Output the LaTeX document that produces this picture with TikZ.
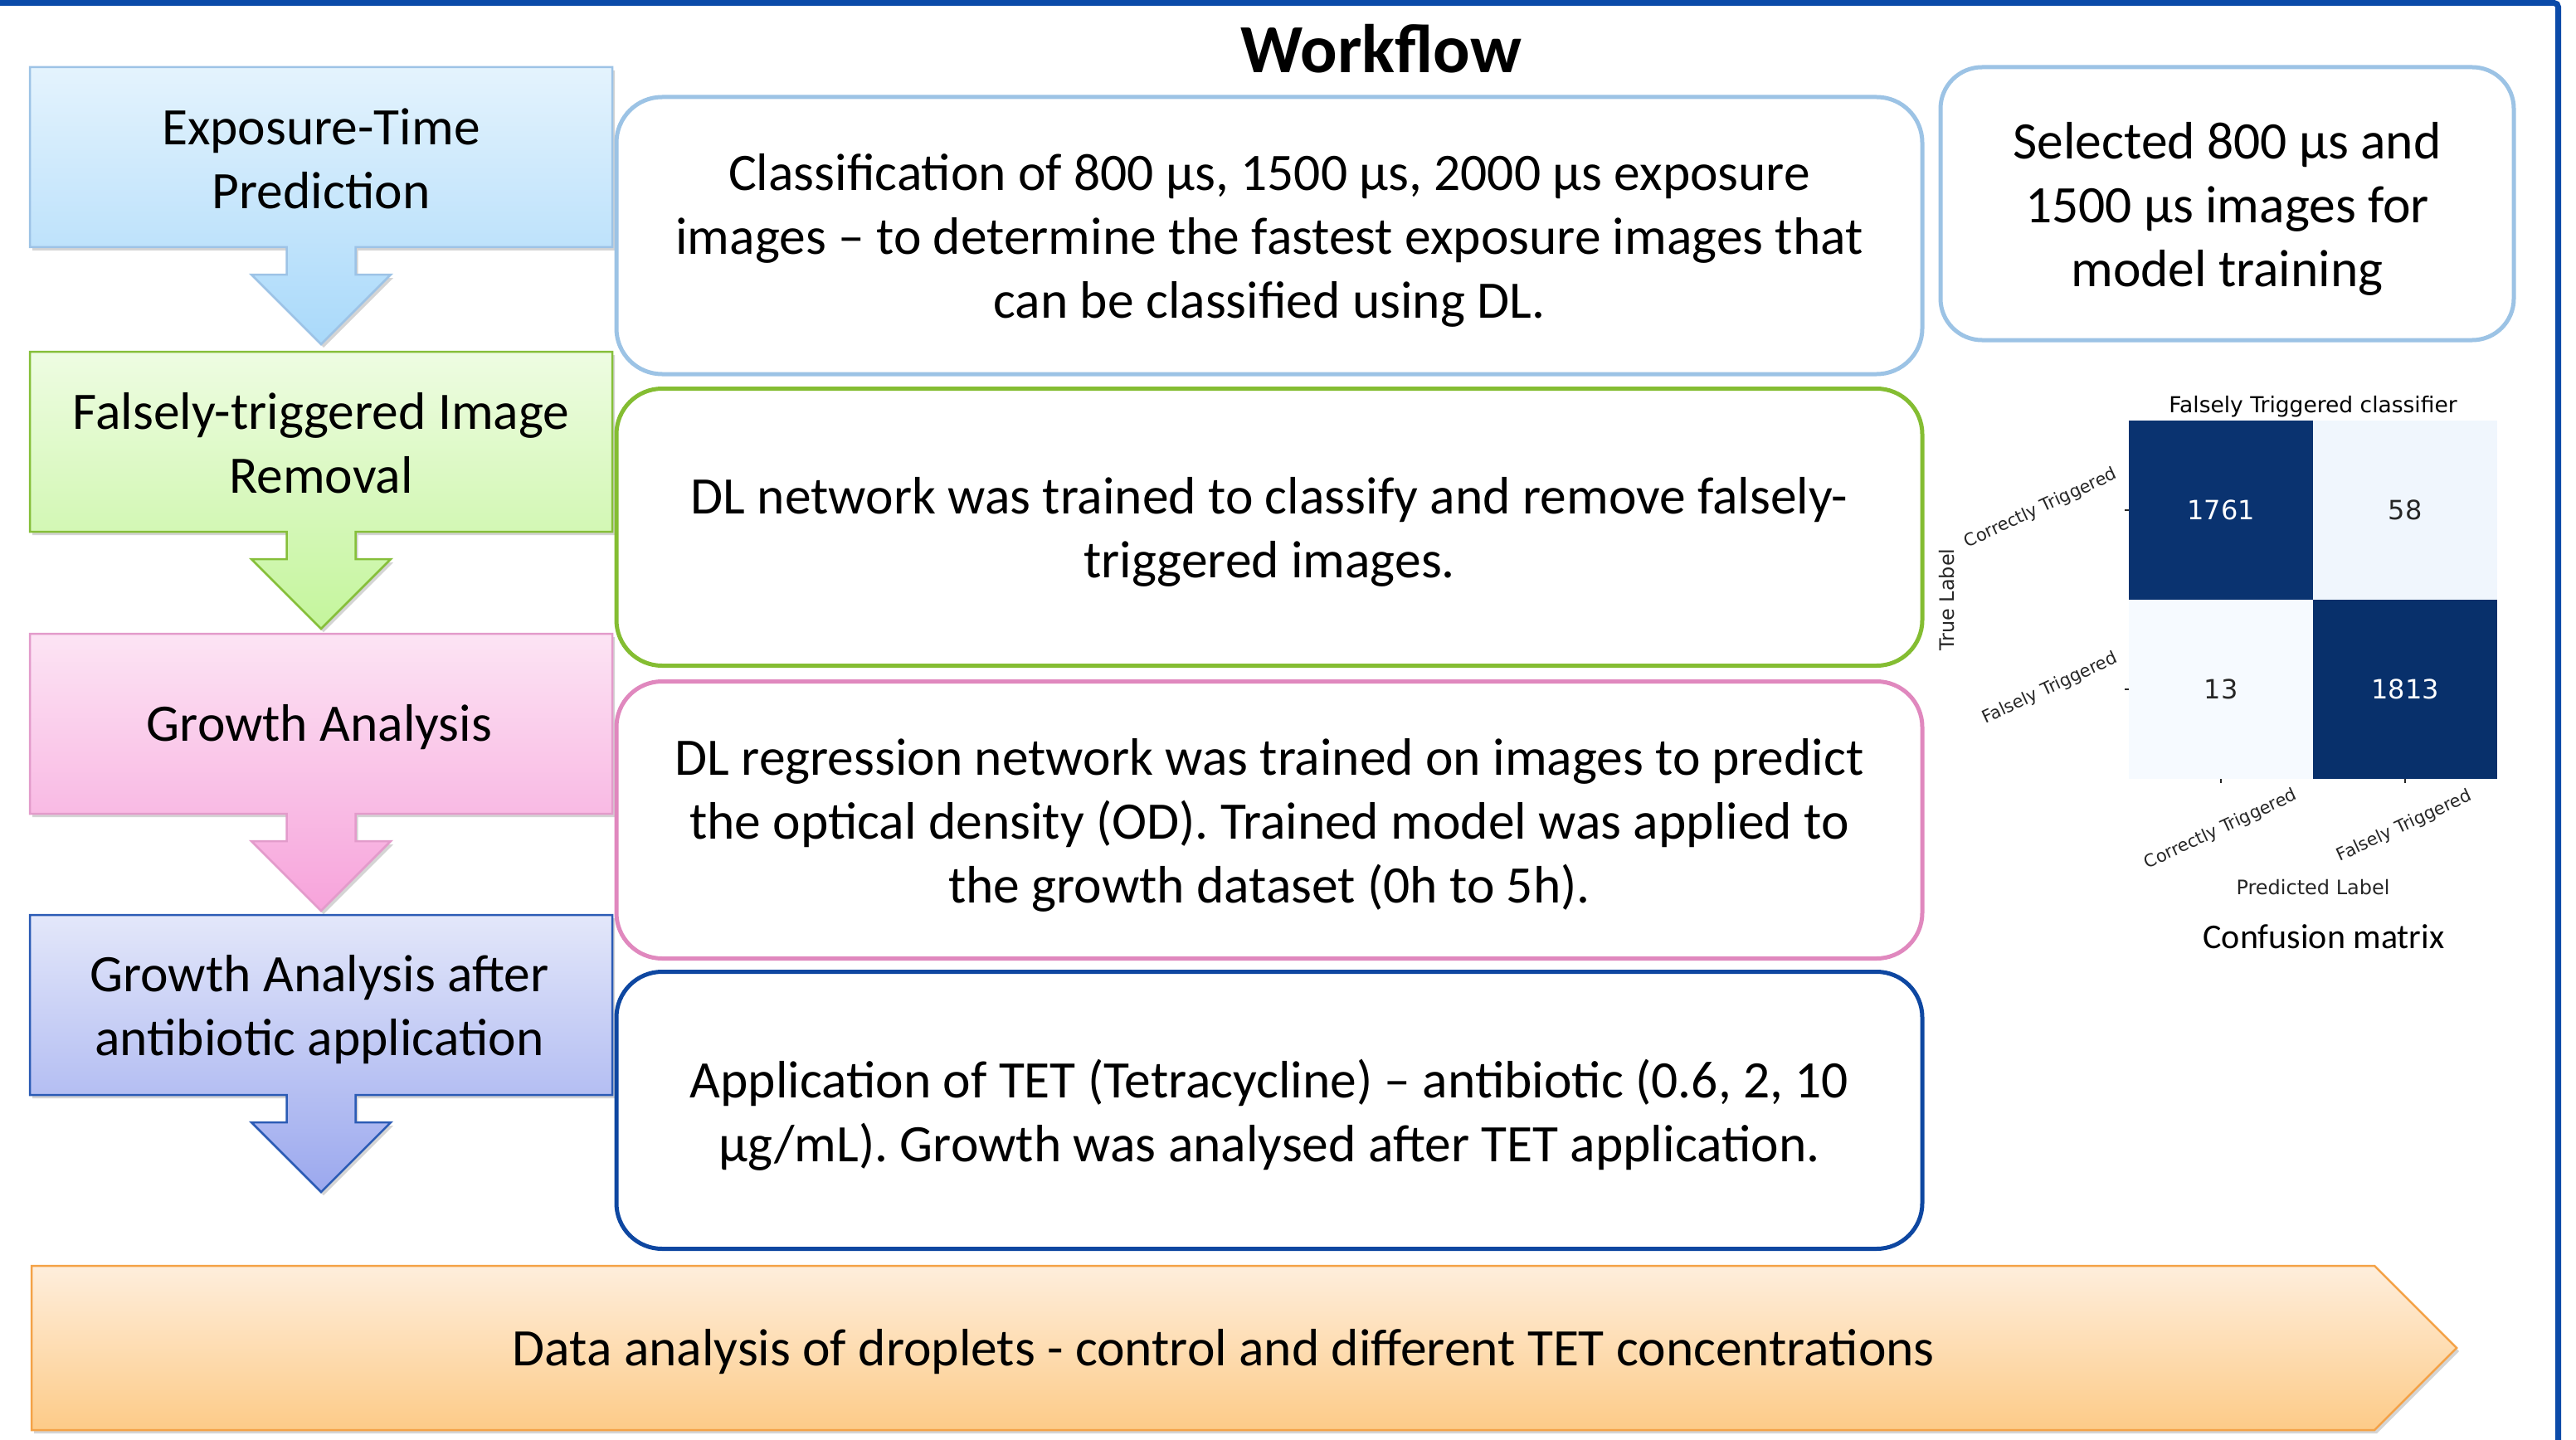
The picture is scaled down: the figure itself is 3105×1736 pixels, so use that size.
\documentclass[tikz,border=0pt]{standalone}
\usepackage{fontspec}
\setmainfont{Carlito}
\newfontfamily\dejavu{DejaVu Sans}
\usetikzlibrary{shadows}
\definecolor{frameblue}{HTML}{0B4BA9}
\definecolor{bA1}{HTML}{E4F3FD}\definecolor{bA2}{HTML}{A9D9FA}\definecolor{bAd}{HTML}{9DC3E6}
\definecolor{bB1}{HTML}{EEFCE2}\definecolor{bB2}{HTML}{C4F59C}\definecolor{bBd}{HTML}{86BF3A}
\definecolor{bC1}{HTML}{FCE4F4}\definecolor{bC2}{HTML}{F7A3DB}\definecolor{bCd}{HTML}{E39BCB}
\definecolor{bD1}{HTML}{E3E7FA}\definecolor{bD2}{HTML}{9BA8EE}\definecolor{bDd}{HTML}{2B5BB5}
\definecolor{oA}{HTML}{FEEEDC}\definecolor{oB}{HTML}{FDCB88}\definecolor{oD}{HTML}{F4A247}
\definecolor{cA}{HTML}{9CC3E5}\definecolor{cB}{HTML}{84BD32}\definecolor{cC}{HTML}{E088BE}\definecolor{cD}{HTML}{0E47A1}
\definecolor{mdark}{HTML}{08306B}\definecolor{mdarkb}{HTML}{0A3370}
\definecolor{mlight}{HTML}{F0F6FD}\definecolor{mlightb}{HTML}{F6FAFF}
\definecolor{mtext}{HTML}{262626}
\newcommand\mainsize{\fontsize{63.5}{77}\selectfont}
\newcommand\stagebox[2]{%
  \path[#2] (36,#1) -- (738,#1) -- (738,#1+217) -- (428.5,#1+217) -- (428.5,#1+250)
    -- (471,#1+250) -- (387,#1+334) -- (303,#1+250) -- (345.5,#1+250)
    -- (345.5,#1+217) -- (36,#1+217) -- cycle;}
\begin{document}
\begin{tikzpicture}[x=1pt,y=-1pt,
  shadowed/.style={drop shadow={shadow xshift=3pt,shadow yshift=-4pt,opacity=.28,fill=black!60}},
  stagebase/.style={line width=2.5pt,line join=miter,shadowed},
  sblue/.style={stagebase,draw=bAd,top color=bA1,bottom color=bA2},
  sgreen/.style={stagebase,draw=bBd,top color=bB1,bottom color=bB2},
  spink/.style={stagebase,draw=bCd,top color=bC1,bottom color=bC2},
  sviolet/.style={stagebase,draw=bDd,top color=bD1,bottom color=bD2},
  ltext/.style={font=\mainsize,align=center,inner sep=0pt},
  cbox/.style={draw,line width=5pt,rounded corners=55pt,minimum width=1574pt,minimum height=334pt,
    inner sep=0pt},
  cell/.style={minimum width=222pt,minimum height=216pt,inner sep=0pt,font=\dejavu\fontsize{32}{38}\selectfont},
  tick/.style={font=\dejavu\fontsize{21}{25}\selectfont,text=mtext,inner sep=0pt},
  axlab/.style={font=\dejavu\fontsize{24}{28}\selectfont,text=mtext,inner sep=0pt},
  tickmark/.style={draw=mtext,line width=1.5pt}]
\useasboundingbox (0,0) rectangle (3105,1736);
\fill[white] (0,0) rectangle (3105,1736);
% frame
\draw[line width=7pt,frameblue,rounded corners=5pt] (0,3.5) -- (3083.5,3.5) -- (3083.5,1736);
% title
\node[font=\bfseries\fontsize{83}{100}\selectfont,anchor=base,inner sep=0pt] (title) at (1665,88) {Workflow};
% left stage boxes
\stagebox{81}{sblue}
\stagebox{424}{sgreen}
\stagebox{764}{spink}
\stagebox{1103}{sviolet}
\node[ltext] (s1) at (387,191.5) {Exposure-Time\\Prediction};
\node[ltext] (s2) at (387,534) {Falsely-triggered Image\\Removal};
\node[ltext] (s3) at (385,877) {Growth Analysis};
\node[ltext] (s4) at (385,1217) {Growth Analysis after\\antibiotic application};
% centre boxes
\node[cbox,draw=cA] (c1) at (1530,284) {};
\node[cbox,draw=cB] (c2) at (1530,635.5) {};
\node[cbox,draw=cC] (c3) at (1530,988.5) {};
\node[cbox,draw=cD] (c4) at (1530,1338.5) {};
\node[ltext] (c1t) at ([yshift=-6pt]c1.center) {Classification of 800 µs, 1500 µs, 2000 µs exposure\\images – to determine the fastest exposure images that\\can be classified using DL.};
\node[ltext] (c2t) at ([yshift=-6pt]c2.center) {DL network was trained to classify and remove falsely-\\triggered images.};
\node[ltext] (c3t) at ([yshift=-6pt]c3.center) {DL regression network was trained on images to predict\\the optical density (OD). Trained model was applied to\\the growth dataset (0h to 5h).};
\node[ltext] (c4t) at ([yshift=-6pt]c4.center) {Application of TET (Tetracycline) – antibiotic (0.6, 2, 10\\µg/mL). Growth was analysed after TET application.};
% right box
\node[cbox,draw=cA,minimum width=691pt,minimum height=329pt,rounded corners=50pt] (r1) at (2684.5,245.5) {};
\node[ltext] (r1t) at ([yshift=-6pt]r1.center) {Selected 800 µs and\\1500 µs images for\\model training};
% bottom bar
\path[line width=2.5pt,draw=oD,top color=oA,bottom color=oB,shadowed]
  (38,1526) -- (2862,1526) -- (2961,1625) -- (2862,1724) -- (38,1724) -- cycle;
\node[ltext] (bar) at (1475,1630) {Data analysis of droplets - control and different TET concentrations};
% confusion matrix
\node[font=\dejavu\fontsize{26.5}{31}\selectfont,inner sep=0pt] (mtitle) at (2788,490) {Falsely Triggered classifier};
\node[cell,fill=mdarkb,text=white] (m11) at (2677,615) {1761};
\node[cell,fill=mlight,text=mtext] (m12) at (2899,615) {58};
\node[cell,fill=mlightb,text=mtext] (m21) at (2677,831) {13};
\node[cell,fill=mdark,text=white] (m22) at (2899,831) {1813};
\draw[tickmark] (m11.west) -- ++(-5,0);
\draw[tickmark] (m21.west) -- ++(-5,0);
\draw[tickmark] (m21.south) -- ++(0,5);
\draw[tickmark] (m22.south) -- ++(0,5);
\node[tick,rotate=25] (yl1) at (2460,613) {Correctly Triggered};
\node[tick,rotate=25] (yl2) at (2471,830) {Falsely Triggered};
\node[tick,rotate=25] (xl1) at (2677,1000) {Correctly Triggered};
\node[tick,rotate=25] (xl2) at (2898,996) {Falsely Triggered};
\node[axlab] (xlab) at (2788,1070) {Predicted Label};
\node[axlab,rotate=90] (ylab) at (2347,723) {True Label};
\node[font=\fontsize{42}{50}\selectfont,inner sep=0pt] (cm) at (2801,1129) {Confusion matrix};
\end{tikzpicture}
\end{document}
